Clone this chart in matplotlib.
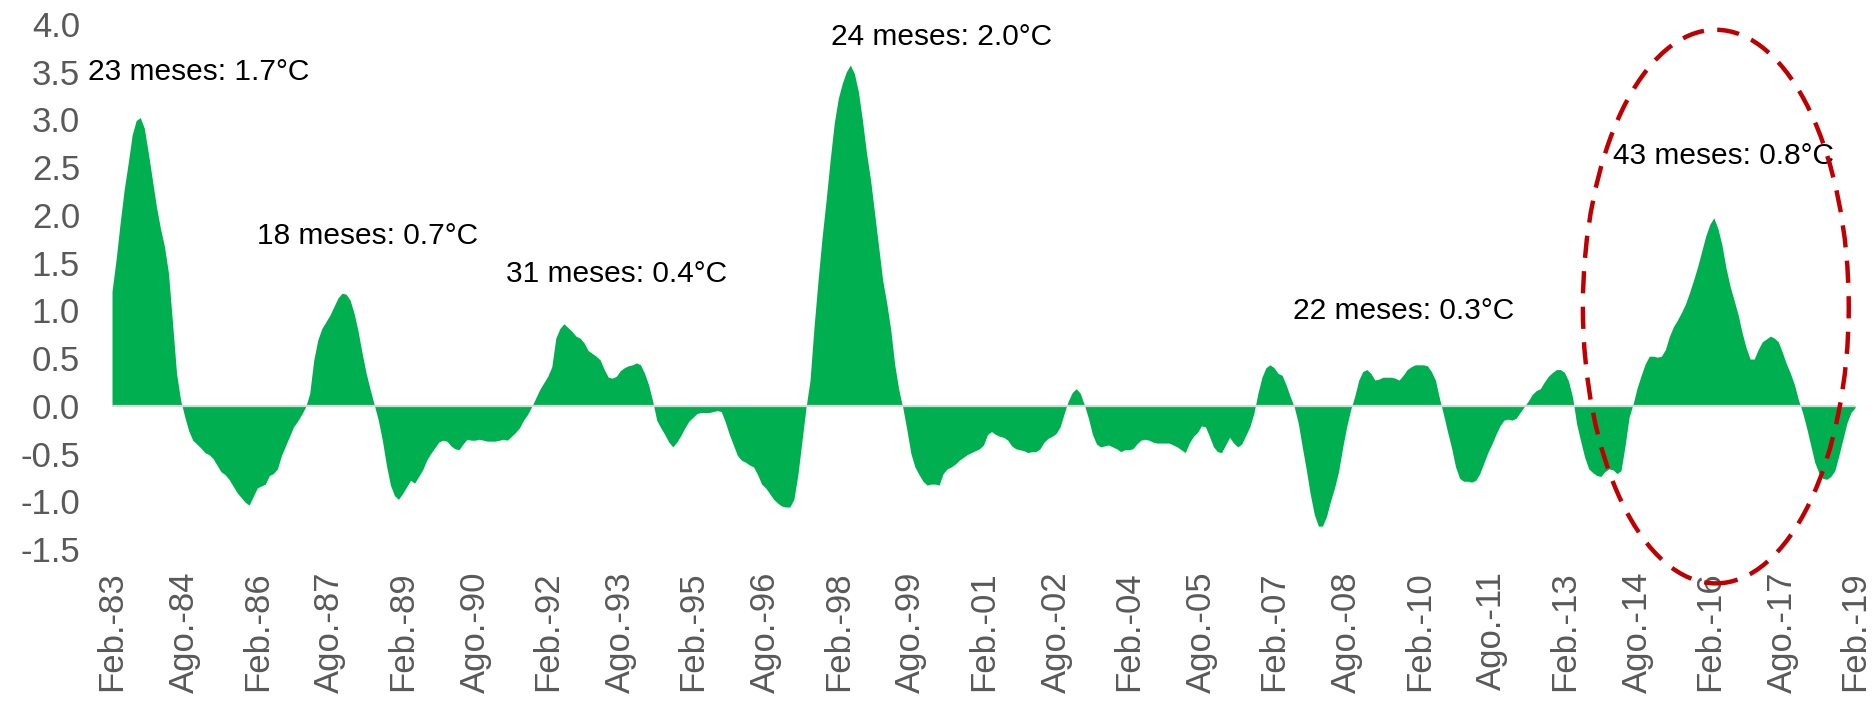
import numpy as np
import matplotlib
matplotlib.use("Agg")
import matplotlib.pyplot as plt
from matplotlib.patches import Ellipse

plt.rcParams["font.family"] = ["Liberation Sans", "DejaVu Sans"]
plt.rcParams["axes.unicode_minus"] = False

# Monthly anomaly (°C), Feb-83 .. Feb-19, one row per 12 months
anomalia = [
    1.20, 1.53, 1.91, 2.26, 2.54, 2.84, 2.99, 3.02, 2.91, 2.65, 2.37, 2.09,
    1.86, 1.67, 1.39, 0.87, 0.34, 0.06, -0.11, -0.26, -0.36, -0.40, -0.44, -0.49,
    -0.51, -0.55, -0.62, -0.69, -0.72, -0.77, -0.84, -0.91, -0.96, -1.01, -1.04, -0.95,
    -0.86, -0.84, -0.82, -0.73, -0.71, -0.66, -0.52, -0.42, -0.32, -0.22, -0.16, -0.09,
    -0.01, 0.13, 0.48, 0.69, 0.81, 0.88, 0.95, 1.04, 1.13, 1.18, 1.17, 1.11,
    0.97, 0.78, 0.55, 0.34, 0.17, 0.01, -0.15, -0.36, -0.62, -0.83, -0.94, -0.98,
    -0.92, -0.85, -0.78, -0.81, -0.74, -0.67, -0.57, -0.50, -0.44, -0.38, -0.36, -0.37,
    -0.42, -0.45, -0.46, -0.40, -0.35, -0.36, -0.36, -0.35, -0.36, -0.37, -0.37, -0.37,
    -0.36, -0.35, -0.36, -0.32, -0.28, -0.23, -0.15, -0.09, -0.01, 0.08, 0.17, 0.24,
    0.31, 0.41, 0.71, 0.81, 0.86, 0.82, 0.78, 0.73, 0.71, 0.66, 0.58, 0.55,
    0.52, 0.48, 0.38, 0.30, 0.29, 0.31, 0.37, 0.40, 0.42, 0.43, 0.45, 0.43,
    0.34, 0.22, 0.05, -0.15, -0.23, -0.30, -0.38, -0.43, -0.38, -0.31, -0.23, -0.16,
    -0.12, -0.08, -0.07, -0.07, -0.07, -0.06, -0.05, -0.06, -0.17, -0.30, -0.41, -0.52,
    -0.57, -0.59, -0.62, -0.64, -0.72, -0.82, -0.86, -0.92, -0.98, -1.02, -1.05, -1.06,
    -1.06, -0.98, -0.72, -0.37, -0.02, 0.27, 0.83, 1.32, 1.77, 2.16, 2.58, 2.96,
    3.22, 3.38, 3.50, 3.57, 3.48, 3.29, 2.99, 2.65, 2.37, 2.02, 1.67, 1.32,
    1.08, 0.80, 0.43, 0.17, -0.02, -0.25, -0.50, -0.64, -0.72, -0.79, -0.83, -0.82,
    -0.82, -0.83, -0.71, -0.66, -0.64, -0.61, -0.57, -0.54, -0.51, -0.49, -0.47, -0.45,
    -0.41, -0.30, -0.27, -0.30, -0.32, -0.33, -0.36, -0.42, -0.45, -0.46, -0.47, -0.49,
    -0.48, -0.48, -0.45, -0.38, -0.34, -0.32, -0.29, -0.22, -0.08, 0.05, 0.14, 0.18,
    0.13, 0.01, -0.13, -0.30, -0.40, -0.43, -0.42, -0.41, -0.43, -0.45, -0.48, -0.46,
    -0.46, -0.45, -0.40, -0.36, -0.35, -0.36, -0.38, -0.39, -0.39, -0.39, -0.39, -0.41,
    -0.43, -0.46, -0.49, -0.39, -0.32, -0.28, -0.21, -0.22, -0.32, -0.43, -0.48, -0.49,
    -0.41, -0.33, -0.39, -0.43, -0.40, -0.31, -0.22, -0.08, 0.13, 0.30, 0.40, 0.43,
    0.40, 0.34, 0.32, 0.22, 0.10, -0.01, -0.18, -0.43, -0.67, -0.93, -1.14, -1.26,
    -1.26, -1.16, -1.00, -0.86, -0.69, -0.44, -0.22, -0.04, 0.10, 0.27, 0.36, 0.38,
    0.34, 0.27, 0.28, 0.30, 0.30, 0.30, 0.29, 0.27, 0.32, 0.38, 0.41, 0.43,
    0.43, 0.43, 0.42, 0.36, 0.27, 0.08, -0.09, -0.27, -0.44, -0.64, -0.76, -0.79,
    -0.79, -0.80, -0.78, -0.71, -0.60, -0.49, -0.40, -0.30, -0.21, -0.15, -0.14, -0.15,
    -0.13, -0.07, -0.01, 0.05, 0.12, 0.16, 0.18, 0.25, 0.31, 0.35, 0.38, 0.38,
    0.35, 0.26, 0.09, -0.19, -0.37, -0.54, -0.66, -0.70, -0.73, -0.74, -0.69, -0.66,
    -0.67, -0.71, -0.68, -0.42, -0.12, 0.02, 0.19, 0.32, 0.44, 0.52, 0.52, 0.51,
    0.52, 0.59, 0.73, 0.83, 0.90, 0.98, 1.07, 1.19, 1.32, 1.46, 1.62, 1.78,
    1.90, 1.97, 1.86, 1.69, 1.45, 1.26, 1.11, 0.96, 0.77, 0.61, 0.49, 0.49,
    0.59, 0.67, 0.70, 0.73, 0.71, 0.67, 0.56, 0.44, 0.34, 0.22, 0.06, -0.07,
    -0.23, -0.41, -0.59, -0.70, -0.76, -0.77, -0.74, -0.68, -0.52, -0.35, -0.18, -0.07,
    -0.02,
]

etiquetas_x = [
    "Feb.-83", "Ago.-84", "Feb.-86", "Ago.-87", "Feb.-89", "Ago.-90", "Feb.-92",
    "Ago.-93", "Feb.-95", "Ago.-96", "Feb.-98", "Ago.-99", "Feb.-01", "Ago.-02",
    "Feb.-04", "Ago.-05", "Feb.-07", "Ago.-08", "Feb.-10", "Ago.-11", "Feb.-13",
    "Ago.-14", "Feb.-16", "Ago.-17", "Feb.-19",
]

# (month index, value) anchor and text of each event label
eventos = ["23 meses: 1.7°C", "18 meses: 0.7°C", "31 meses: 0.4°C",
           "24 meses: 2.0°C", "22 meses: 0.3°C", "43 meses: 0.8°C"]
eventos_x = [-5.9, 35.9, 97.6, 178.2, 292.7, 372.0]
eventos_y = [3.50, 1.78, 1.38, 3.86, 0.99, 2.62]

VERDE = "#00B050"
GRIS = "#595959"

x = np.arange(len(anomalia))

fig = plt.figure(figsize=(18.73, 7.01), dpi=100)
ax = fig.add_axes([0.0598, 0.2168, 0.9306, 0.7489])

ax.fill_between(x, anomalia, 0, color=VERDE, linewidth=0, zorder=2)
ax.axhline(0, color="#D9D9D9", lw=1.6, zorder=3)

ax.set_xlim(0, len(anomalia) - 1)
ax.set_ylim(-1.5, 4.0)

ax.set_yticks(np.arange(-1.5, 4.01, 0.5))
ax.set_yticklabels([f"{v:.1f}" for v in np.arange(-1.5, 4.01, 0.5)])
ax.set_xticks(np.arange(0, len(anomalia), 18))
ax.set_xticklabels(etiquetas_x, rotation=90, va="top", ha="center")

ax.tick_params(axis="y", length=0, pad=23, labelsize=25, labelcolor=GRIS)
ax.tick_params(axis="x", length=0, pad=16, labelsize=25, labelcolor=GRIS)
for s in ax.spines.values():
    s.set_visible(False)

for txt, ex, ey in zip(eventos, eventos_x, eventos_y):
    ax.text(ex, ey, txt, ha="left", va="center", fontsize=21.5, color="black",
            zorder=6)

elipse = Ellipse((397.5, 1.04), 65.9, 5.80, fill=False, edgecolor="#C00000",
                 lw=3.2, linestyle=(0, (5, 3)), clip_on=False, zorder=7)
ax.add_patch(elipse)

fig.savefig("out.png", dpi=100)
